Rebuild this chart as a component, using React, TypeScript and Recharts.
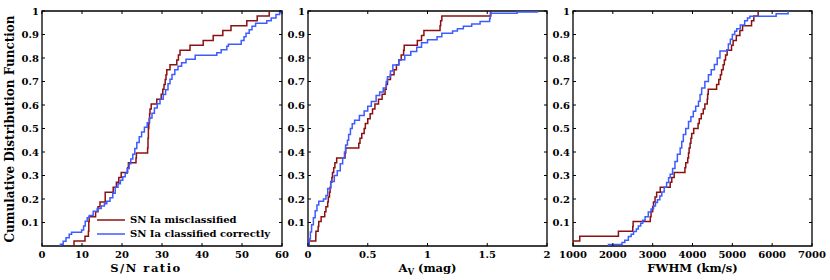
import { LineChart, Line, XAxis, YAxis, ReferenceArea, Legend } from "recharts"

const FONT = "'DejaVu Serif', serif"
const RED = "#8b1010"
const BLUE = "#3d5cff"

const seriesNames = ["SN Ia misclassified", "SN Ia classified correctly"]
const yTicks = [0.1, 0.2, 0.3, 0.4, 0.5, 0.6, 0.7, 0.8, 0.9, 1]

// S/N ratio
const snTicks = [0, 10, 20, 30, 40, 50, 60]
const snMisclassified = [
  8, 10.75, 11.6, 11.7, 11.7, 11.8, 13.4, 14, 14.5, 15.8, 15.8, 17.8, 18.6, 19.2, 19.8, 21.4,
  21.6, 23.5, 23.6, 26.4, 26.5, 26.5, 26.6, 26.6, 26.7, 26.8, 26.9, 27.0, 27.3, 28.7, 29.8, 30.2,
  30.5, 30.8, 31.0, 31.2, 32.0, 33.7, 34.1, 34.5, 37, 40.3, 42.8, 45.2, 47.25, 51.2, 53.8, 56.8,
]
const snCorrectX = [
  4.6, 5.3, 6.0, 6.8, 7.4, 9.9, 10.4, 10.8, 11.3, 11.8, 12.8, 13.8, 14.8, 15.6, 16.2, 17.0, 17.7,
  18.3, 19.0, 19.6, 20.2, 20.8, 21.3, 21.8, 22.2, 22.7, 23.2, 23.7, 24.3, 24.9, 25.6, 26.3, 26.9,
  27.5, 28.1, 28.8, 29.5, 30.3, 30.9, 31.5, 32.0, 32.5, 33.2, 34.0, 34.9, 36.0, 38.3, 43.7, 44.8,
  46.2, 46.6, 49.8, 50.5, 51.0, 51.8, 52.5, 53.4, 56.2, 57.3, 58.5, 59.4, 60,
]
const snCorrectP = [
  0.007, 0.02, 0.035, 0.05, 0.058, 0.068, 0.085, 0.105, 0.12, 0.13, 0.148, 0.16, 0.17, 0.18, 0.19,
  0.205, 0.225, 0.25, 0.265, 0.28, 0.295, 0.31, 0.33, 0.35, 0.37, 0.39, 0.415, 0.44, 0.465, 0.485,
  0.505, 0.525, 0.545, 0.565, 0.587, 0.605, 0.625, 0.645, 0.665, 0.69, 0.71, 0.73, 0.75, 0.765,
  0.78, 0.795, 0.812, 0.822, 0.835, 0.85, 0.858, 0.875, 0.89, 0.905, 0.92, 0.935, 0.948, 0.958,
  0.97, 0.985, 0.993, 1,
]

// A_V (mag)
const avTicks = [0, 0.5, 1, 1.5, 2]
const avMisclassified = [
  0.01, 0.065, 0.066, 0.085, 0.09, 0.11, 0.14, 0.15, 0.165, 0.17, 0.18, 0.185, 0.19, 0.2, 0.205,
  0.215, 0.225, 0.24, 0.31, 0.315, 0.425, 0.435, 0.45, 0.47, 0.48, 0.5, 0.52, 0.54, 0.56, 0.59,
  0.62, 0.645, 0.655, 0.665, 0.69, 0.72, 0.74, 0.76, 0.78, 0.8, 0.805, 0.915, 0.95, 0.97, 1.105,
  1.11, 1.12, 1.53,
]
const avCorrectX = [
  0.0, 0.01, 0.02, 0.03, 0.045, 0.06, 0.075, 0.09, 0.13, 0.15, 0.165, 0.19, 0.22, 0.245, 0.27,
  0.29, 0.305, 0.315, 0.33, 0.34, 0.355, 0.37, 0.39, 0.43, 0.47, 0.5, 0.53, 0.57, 0.6, 0.63, 0.655,
  0.665, 0.69, 0.71, 0.76, 0.81, 0.86, 0.91, 0.95, 1.0, 1.08, 1.12, 1.21, 1.25, 1.3, 1.37, 1.44,
  1.52, 1.525, 1.75, 1.92,
]
const avCorrectP = [
  0.007, 0.03, 0.06, 0.09, 0.12, 0.15, 0.175, 0.19, 0.2, 0.215, 0.245, 0.275, 0.3, 0.32, 0.35,
  0.375, 0.4, 0.43, 0.45, 0.475, 0.5, 0.52, 0.535, 0.555, 0.575, 0.595, 0.615, 0.64, 0.655, 0.672,
  0.7, 0.72, 0.745, 0.77, 0.793, 0.812, 0.828, 0.846, 0.865, 0.878, 0.89, 0.905, 0.915, 0.925,
  0.935, 0.945, 0.955, 0.968, 0.99, 0.996, 1,
]

// FWHM (km/s)
const fwTicks = [1000, 2000, 3000, 4000, 5000, 6000, 7000]
const fwMisclassified = [
  1000, 1170, 2140, 2500, 2510, 2940, 2960, 3000, 3020, 3060, 3100, 3190, 3440, 3480, 3540, 3810,
  3830, 3880, 3900, 3915, 3940, 3960, 3980, 4030, 4140, 4170, 4220, 4270, 4310, 4370, 4380, 4395,
  4605, 4660, 4700, 4730, 4770, 4800, 4830, 4870, 4980, 5020, 5100, 5190, 5257, 5482, 5540, 5648,
]
const fwCorrectX = [
  1890, 2230, 2300, 2390, 2460, 2520, 2590, 2640, 2700, 2750, 2810, 2890, 2960, 3020, 3070, 3120,
  3180, 3230, 3290, 3350, 3400, 3440, 3500, 3560, 3620, 3690, 3730, 3770, 3830, 3900, 3960, 4020,
  4080, 4150, 4190, 4230, 4310, 4400, 4470, 4550, 4620, 4690, 4860, 4900, 4950, 5000, 5060, 5110,
  5200, 5310, 5380, 5440, 6100, 6400,
]
const fwCorrectP = [
  0.006, 0.015, 0.025, 0.04, 0.05, 0.062, 0.072, 0.085, 0.097, 0.11, 0.125, 0.145, 0.157, 0.17,
  0.185, 0.197, 0.213, 0.23, 0.25, 0.27, 0.29, 0.305, 0.33, 0.36, 0.39, 0.417, 0.445, 0.474, 0.5,
  0.53, 0.55, 0.573, 0.595, 0.616, 0.645, 0.672, 0.7, 0.729, 0.75, 0.772, 0.8, 0.83, 0.835, 0.86,
  0.88, 0.9, 0.914, 0.925, 0.94, 0.958, 0.97, 0.978, 0.988, 1,
]

type Pt = { x: number; p: number }

// empirical cdf of the sorted samples
const cdf = (xs: number[]): Pt[] => [
  { x: xs[0], p: 0 },
  ...xs.map((x, i) => ({ x, p: (i + 1) / xs.length })),
]
const pairs = (xs: number[], ps: number[]): Pt[] => [
  { x: xs[0], p: 0 },
  ...xs.map((x, i) => ({ x, p: ps[i] })),
]

const TOP = 11
const BOTTOM = 246
const TICK = 3

function LegendBox() {
  const colors = [RED, BLUE]
  return (
    <div style={{ fontFamily: FONT, fontWeight: "bold", fontSize: 10, lineHeight: "14px", color: "#000" }}>
      {seriesNames.map((name, i) => (
        <div key={name} style={{ display: "flex", alignItems: "center", height: 14, whiteSpace: "nowrap" }}>
          <svg width={30} height={14}>
            <line x1={2} x2={30} y1={7} y2={7} stroke={colors[i]} strokeWidth={1.5} />
          </svg>
          <span style={{ marginLeft: 5 }}>{name}</span>
        </div>
      ))}
    </div>
  )
}

function XTitle({ kind, cx, spacing }: any) {
  const style = { fontFamily: FONT, fontWeight: "bold" as const, fontSize: 11.5, fill: "#000", letterSpacing: spacing || 0 }
  if (kind === "av") {
    return (
      <text x={cx} y={272} textAnchor="middle" style={style}>
        A<tspan dy={3} fontSize={8.5}>V</tspan>
        <tspan dy={-3}> (mag)</tspan>
      </text>
    )
  }
  return (
    <text x={cx} y={272} textAnchor="middle" style={style}>
      {kind}
    </text>
  )
}

function YTitle() {
  return (
    <text
      x={10}
      y={129}
      transform="rotate(-90 10 129)"
      textAnchor="middle"
      dominantBaseline="central"
      style={{ fontFamily: FONT, fontWeight: "bold", fontSize: 12, fill: "#000" }}
    >
      Cumulative Distribution Function
    </text>
  )
}

function Panel({ plotLeft, plotRight, domain, ticks, red, blue, title, titleX, titleSpacing, yTitle, legend }: any) {
  const xTick = (props: any) => {
    const { x, y, payload } = props
    return (
      <g>
        <line x1={x} x2={x} y1={BOTTOM} y2={BOTTOM - TICK} stroke="#000" />
        <line x1={x} x2={x} y1={TOP} y2={TOP + TICK} stroke="#000" />
        <text x={x} y={y + 12} textAnchor="middle" fontFamily={FONT} fontWeight="bold" fontSize={10} fill="#000">
          {String(payload.value)}
        </text>
      </g>
    )
  }
  const yTick = (props: any) => {
    const { x, y, payload } = props
    return (
      <g>
        <line x1={plotLeft} x2={plotLeft + TICK} y1={y} y2={y} stroke="#000" />
        <line x1={plotRight} x2={plotRight - TICK} y1={y} y2={y} stroke="#000" />
        <text x={x} y={y + 3.6} textAnchor="end" fontFamily={FONT} fontWeight="bold" fontSize={10} fill="#000">
          {String(payload.value)}
        </text>
      </g>
    )
  }
  return (
    <div style={{ position: "absolute", left: 0, top: 0 }}>
      <LineChart width={830} height={280} margin={{ top: TOP, right: 830 - plotRight, bottom: 0, left: plotLeft - 30 }}>
        <XAxis
          type="number"
          dataKey="x"
          domain={domain}
          ticks={ticks}
          interval={0}
          allowDataOverflow
          axisLine={false}
          tickLine={false}
          tickSize={0}
          tickMargin={0}
          height={34}
          tick={xTick}
          label={<XTitle kind={title} cx={titleX} spacing={titleSpacing} />}
        />
        <YAxis
          type="number"
          dataKey="p"
          domain={[0, 1]}
          ticks={yTicks}
          interval={0}
          allowDataOverflow
          axisLine={false}
          tickLine={false}
          tickSize={0}
          tickMargin={3}
          width={30}
          tick={yTick}
          label={yTitle ? <YTitle /> : undefined}
        />
        <ReferenceArea
          x1={domain[0]}
          x2={domain[1]}
          y1={0}
          y2={1}
          fill="none"
          stroke="#000"
          strokeWidth={1.3}
          ifOverflow="visible"
        />
        <Line data={red} dataKey="p" type="stepAfter" stroke={RED} strokeWidth={1.5} dot={false} isAnimationActive={false} />
        <Line data={blue} dataKey="p" type="stepAfter" stroke={BLUE} strokeWidth={1.5} dot={false} isAnimationActive={false} />
        {legend && (
          <Legend
            layout="vertical"
            align="center"
            verticalAlign="middle"
            wrapperStyle={{ left: 95, top: 213, width: "auto", height: "auto" }}
            content={() => <LegendBox />}
          />
        )}
      </LineChart>
    </div>
  )
}

export default function App() {
  return (
    <div style={{ position: "absolute", left: 0, top: 0, width: 830, height: 280, background: "#fff", fontFamily: FONT }}>
      <Panel
        plotLeft={42}
        plotRight={282}
        domain={[0, 60]}
        ticks={snTicks}
        red={cdf(snMisclassified)}
        blue={pairs(snCorrectX, snCorrectP)}
        title="S/N ratio"
        titleX={146}
        titleSpacing={1.5}
        yTitle
        legend
      />
      <Panel
        plotLeft={308}
        plotRight={547}
        domain={[0, 2]}
        ticks={avTicks}
        red={cdf(avMisclassified)}
        blue={pairs(avCorrectX, avCorrectP)}
        title="av"
        titleX={427.5}
      />
      <Panel
        plotLeft={573}
        plotRight={812}
        domain={[1000, 7000]}
        ticks={fwTicks}
        red={cdf(fwMisclassified)}
        blue={pairs(fwCorrectX, fwCorrectP)}
        title="FWHM (km/s)"
        titleX={692.5}
      />
    </div>
  )
}
